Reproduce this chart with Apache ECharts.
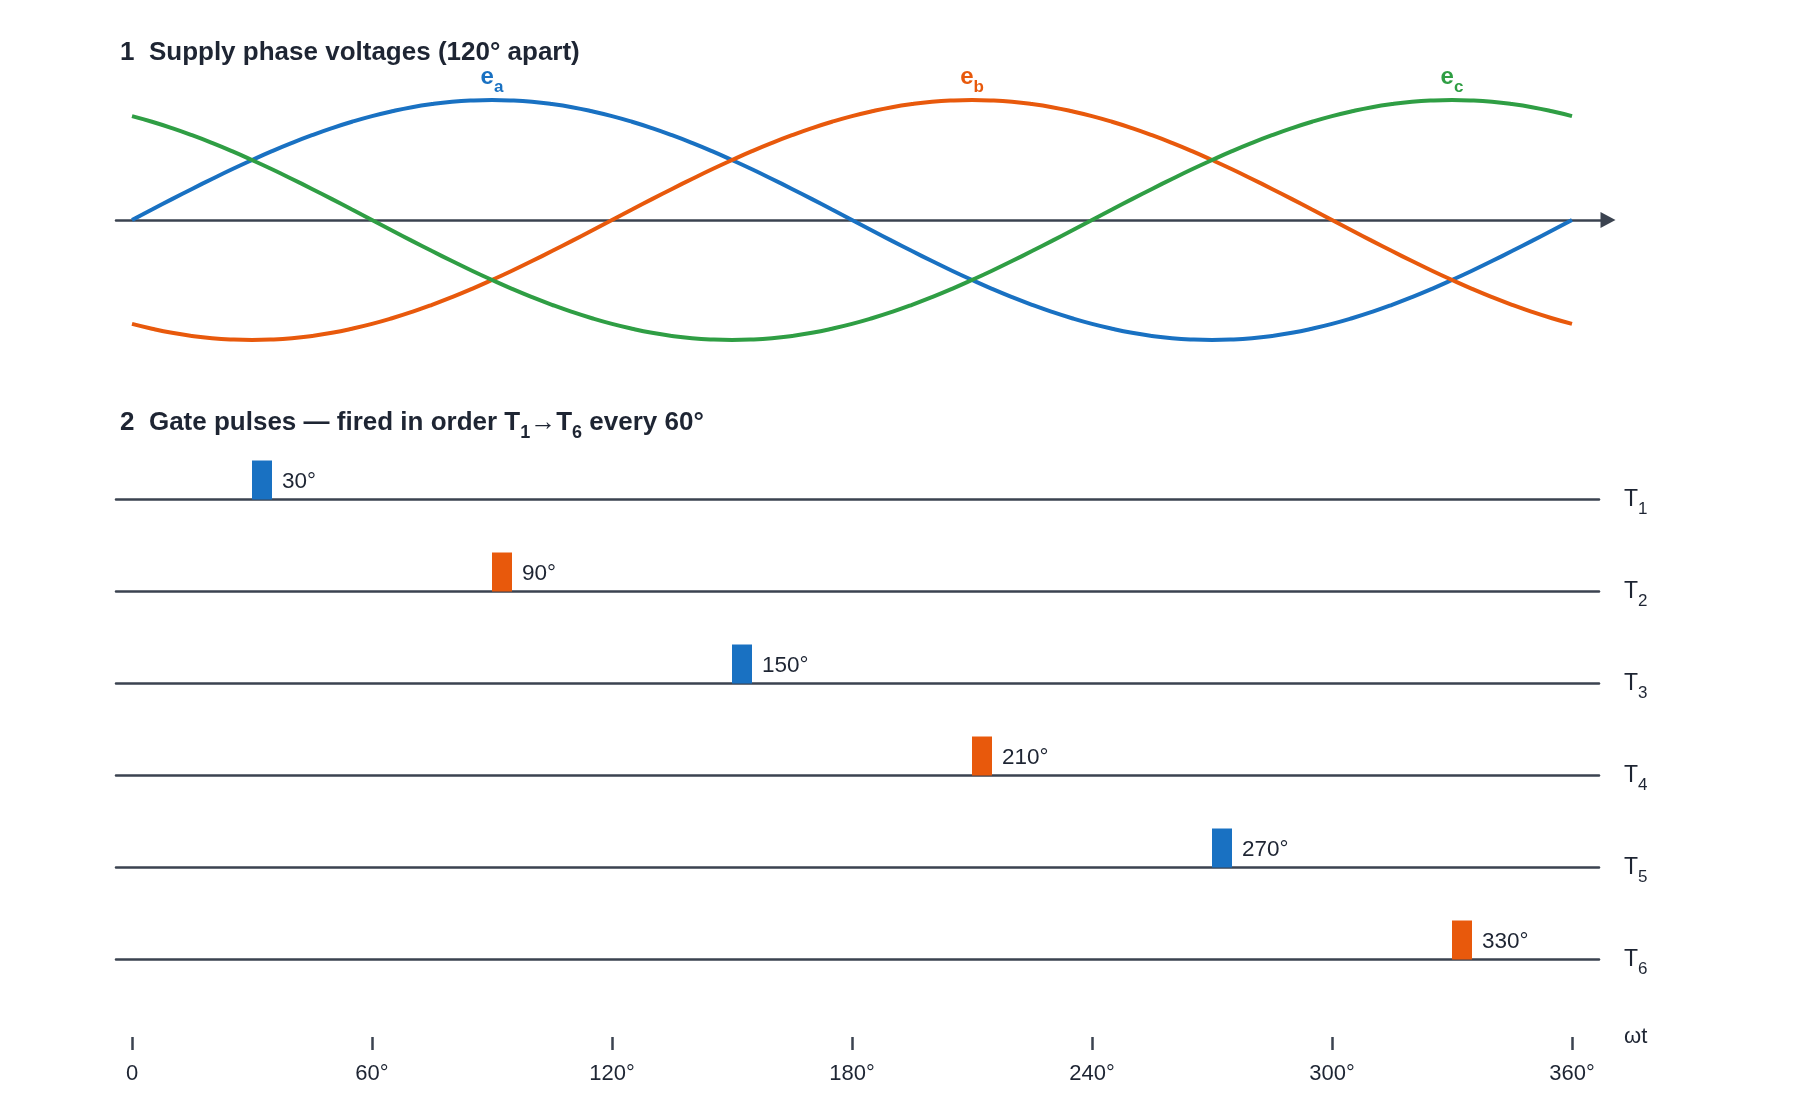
<!DOCTYPE html>
<html>
<head>
<meta charset="utf-8">
<script src="https://cdn.jsdelivr.net/npm/echarts@6/dist/echarts.min.js"></script>
<style>html,body{margin:0;padding:0;background:#fff}#c{width:1800px;height:1120px}</style>
</head>
<body>
<div id="c"></div>
<script>
// ---- data ----
const angles = [0,5,10,15,20,25,30,35,40,45,50,55,60,65,70,75,80,85,90,95,100,105,110,115,120,125,130,135,140,145,150,155,160,165,170,175,180,185,190,195,200,205,210,215,220,225,230,235,240,245,250,255,260,265,270,275,280,285,290,295,300,305,310,315,320,325,330,335,340,345,350,355,360];
const ea = [0,0.087,0.174,0.259,0.342,0.423,0.5,0.574,0.643,0.707,0.766,0.819,0.866,0.906,0.94,0.966,0.985,0.996,1,
  0.996,0.985,0.966,0.94,0.906,0.866,0.819,0.766,0.707,0.643,0.574,0.5,0.423,0.342,0.259,0.174,0.087,0,
  -0.087,-0.174,-0.259,-0.342,-0.423,-0.5,-0.574,-0.643,-0.707,-0.766,-0.819,-0.866,-0.906,-0.94,-0.966,-0.985,-0.996,-1,
  -0.996,-0.985,-0.966,-0.94,-0.906,-0.866,-0.819,-0.766,-0.707,-0.643,-0.574,-0.5,-0.423,-0.342,-0.259,-0.174,-0.087,0];
const eb = [-0.866,-0.906,-0.94,-0.966,-0.985,-0.996,-1,-0.996,-0.985,-0.966,-0.94,-0.906,-0.866,-0.819,-0.766,-0.707,-0.643,-0.574,-0.5,-0.423,-0.342,-0.259,-0.174,-0.087,0,
  0.087,0.174,0.259,0.342,0.423,0.5,0.574,0.643,0.707,0.766,0.819,0.866,0.906,0.94,0.966,0.985,0.996,1,
  0.996,0.985,0.966,0.94,0.906,0.866,0.819,0.766,0.707,0.643,0.574,0.5,0.423,0.342,0.259,0.174,0.087,0,
  -0.087,-0.174,-0.259,-0.342,-0.423,-0.5,-0.574,-0.643,-0.707,-0.766,-0.819,-0.866];
const ec = [0.866,0.819,0.766,0.707,0.643,0.574,0.5,0.423,0.342,0.259,0.174,0.087,0,
  -0.087,-0.174,-0.259,-0.342,-0.423,-0.5,-0.574,-0.643,-0.707,-0.766,-0.819,-0.866,-0.906,-0.94,-0.966,-0.985,-0.996,-1,
  -0.996,-0.985,-0.966,-0.94,-0.906,-0.866,-0.819,-0.766,-0.707,-0.643,-0.574,-0.5,-0.423,-0.342,-0.259,-0.174,-0.087,0,
  0.087,0.174,0.259,0.342,0.423,0.5,0.574,0.643,0.707,0.766,0.819,0.866,0.906,0.94,0.966,0.985,0.996,1,
  0.996,0.985,0.966,0.94,0.906,0.866];
const phaseNames = ['a','b','c'];
const phasePeaks = [90,210,330];
const thyristors = ['1','2','3','4','5','6'];
const firingAngles = [30,90,150,210,270,330];
const pulseWidthDeg = 5;
const tickValues = [0,60,120,180,240,300,360];
const tickLabels = ['0','60°','120°','180°','240°','300°','360°'];

// ---- style ----
const C_BLUE = '#1971c2', C_ORANGE = '#e8590c', C_GREEN = '#2f9e44';
const phaseColors = [C_BLUE, C_ORANGE, C_GREEN];
const pulseColors = [C_BLUE, C_ORANGE, C_BLUE, C_ORANGE, C_BLUE, C_ORANGE];
const AXIS = '#3b4350', TEXT = '#1e2533';
const FONT = "'Liberation Sans', Arial, Helvetica, sans-serif";

const chart = echarts.init(document.getElementById('c'), null, {renderer:'canvas'});

const grids = [], xAxes = [], yAxes = [], series = [];
// top grid
grids.push({left:116, top:100, width:1492, height:240});
xAxes.push({type:'value', gridIndex:0, min:-4, max:369,
  axisLine:{show:true, onZero:true, symbol:['none','triangle'], symbolSize:[16,15], lineStyle:{color:AXIS, width:2.5}},
  axisTick:{show:false}, axisLabel:{show:false}, splitLine:{show:false}});
yAxes.push({type:'value', gridIndex:0, min:-1, max:1, show:false});
[ea, eb, ec].forEach((arr, i) => {
  series.push({
    type:'line', xAxisIndex:0, yAxisIndex:0, smooth:true, showSymbol:false, symbol:'none',
    data: angles.map((a, k) => [a, arr[k]]),
    lineStyle:{color:phaseColors[i], width:4}, z:3,
    markPoint:{symbol:'circle', symbolSize:1, itemStyle:{color:'transparent'},
      label:{show:true, position:'top', distance:4, formatter:'{e|e}{s|' + phaseNames[i] + '}',
        rich:{e:{fontSize:24, fontWeight:'bold', color:phaseColors[i], fontFamily:FONT, lineHeight:36},
              s:{fontSize:17, fontWeight:'bold', color:phaseColors[i], fontFamily:FONT, verticalAlign:'bottom'}}},
      data:[{coord:[phasePeaks[i], 1]}]}
  });
});

// gate rows
const rowBase0 = 499.5, rowStep = 92, pulseH = 39;
thyristors.forEach((t, i) => {
  const gi = i + 1;
  grids.push({left:116, top:rowBase0 + rowStep*i - pulseH, width:1483, height:pulseH});
  xAxes.push({type:'value', gridIndex:gi, min:-4, max:366.75,
    name:'{t|T}{s|' + t + '}', nameLocation:'end', nameGap:25,
    nameTextStyle:{rich:{t:{fontSize:23, color:TEXT, fontFamily:FONT, lineHeight:37},
                         s:{fontSize:17, color:TEXT, fontFamily:FONT, verticalAlign:'bottom'}}},
    axisLine:{show:true, onZero:true, lineStyle:{color:AXIS, width:2.5}},
    axisTick:{show:false}, axisLabel:{show:false}, splitLine:{show:false}});
  yAxes.push({type:'value', gridIndex:gi, min:0, max:1, show:false});
  series.push({
    type:'custom', xAxisIndex:gi, yAxisIndex:gi, z:1,
    data:[[firingAngles[i], 1]],
    renderItem:(params, api) => {
      const p0 = api.coord([api.value(0), 0]);
      const p1 = api.coord([api.value(0) + pulseWidthDeg, api.value(1)]);
      return {type:'rect', shape:{x:p0[0], y:p1[1], width:p1[0]-p0[0], height:p0[1]-p1[1]},
        style:{fill:pulseColors[i]},
        textContent:{style:{text: api.value(0) + '°', fontSize:22.5, fill:TEXT, fontFamily:FONT}},
        textConfig:{position:'right', distance:10, offset:[0, 2]}};
    }
  });
});

// bottom tick axis
const gt = grids.length;
grids.push({left:132, top:1000, width:1440, height:37});
xAxes.push({type:'value', gridIndex:gt, min:0, max:360, interval:60, position:'bottom',
  name:'ωt', nameLocation:'end', nameGap:52, nameTextStyle:{fontSize:22, color:TEXT, fontFamily:FONT},
  axisLine:{show:false, onZero:false}, axisTick:{show:true, length:13, lineStyle:{color:AXIS, width:2.5}},
  axisLabel:{show:true, margin:26, fontSize:22, color:TEXT, fontFamily:FONT,
    formatter:(v) => tickLabels[tickValues.indexOf(v)]}, splitLine:{show:false}});
yAxes.push({type:'value', gridIndex:gt, min:0, max:1, show:false});

chart.setOption({
  backgroundColor:'#fff',
  animation:false,
  title:[
    {text:'1  Supply phase voltages (120° apart)', left:120, top:40, padding:0,
      textStyle:{fontSize:26, fontWeight:'bold', color:TEXT, fontFamily:FONT}},
    {text:'{m|2  Gate pulses — fired in order T}{s|1}{m|→T}{s|6}{m| every 60°}', left:120, top:404, padding:0,
      textStyle:{rich:{m:{fontSize:26, fontWeight:'bold', color:TEXT, fontFamily:FONT, lineHeight:38},
                       s:{fontSize:18, fontWeight:'bold', color:TEXT, fontFamily:FONT, verticalAlign:'bottom'}}}}
  ],
  grid:grids, xAxis:xAxes, yAxis:yAxes, series:series
});
</script>
</body>
</html>
